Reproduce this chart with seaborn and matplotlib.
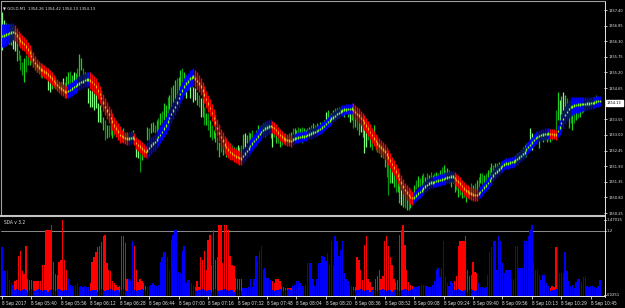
import numpy as np
import matplotlib
matplotlib.use("Agg")
import matplotlib.pyplot as plt
from matplotlib.lines import Line2D
import matplotlib.transforms as mtransforms
from matplotlib.font_manager import FontProperties, findfont
from matplotlib.textpath import TextPath
import seaborn as sns

sns.set_theme(style="dark", rc={"axes.facecolor": "black", "figure.facecolor": "black",
                                "patch.force_edgecolor": False, "patch.edgecolor": "none"})


def _font_ok(fam, **kw):
    try:
        return findfont(FontProperties(family=fam, **kw), fallback_to_default=False)
    except Exception:
        return None


FONT = "Liberation Sans"
STRETCH = "normal"
if _font_ok("Liberation Sans Narrow"):
    FONT = "Liberation Sans Narrow"
else:
    p = _font_ok("DejaVu Sans", stretch="condensed")
    if p and "Condensed" in p:
        FONT, STRETCH = "DejaVu Sans", "condensed"
plt.rcParams['font.family'] = [FONT, 'DejaVu Sans']
plt.rcParams['font.stretch'] = STRETCH

# ---------------- data ----------------
time_labels = ["8 Sep 2017", "8 Sep 05:40", "8 Sep 05:56", "8 Sep 06:12", "8 Sep 06:28",
               "8 Sep 06:44", "8 Sep 07:00", "8 Sep 07:16", "8 Sep 07:32", "8 Sep 07:48",
               "8 Sep 08:04", "8 Sep 08:20", "8 Sep 08:36", "8 Sep 08:52", "8 Sep 09:08",
               "8 Sep 09:24", "8 Sep 09:40", "8 Sep 09:56", "8 Sep 10:13", "8 Sep 10:29",
               "8 Sep 10:45"]
price_ticks = [1357.40, 1356.85, 1356.30, 1355.75, 1355.20, 1354.65, 1354.13,
               1353.55, 1353.00, 1352.45, 1351.90, 1351.35, 1350.80, 1350.25]
last_price = 1354.13
header = "GOLD,M1  1354.26 1354.42 1354.13 1354.13"
sub_title = "SDA v 3.2"
sub_max, sub_level, sub_min = 1.47015, 1.2, 0.0251

# smoothed line (band centre), one value per minute
mid = [
 1356.49, 1356.51, 1356.53, 1356.56, 1356.59, 1356.61, 1356.63, 1356.59, 1356.50, 1356.41,
 1356.33, 1356.26, 1356.20, 1356.12, 1356.01, 1355.90, 1355.78, 1355.66, 1355.53, 1355.45,
 1355.37, 1355.31, 1355.28, 1355.24, 1355.19, 1355.12, 1355.06, 1354.98, 1354.90, 1354.83,
 1354.76, 1354.69, 1354.63, 1354.58, 1354.53, 1354.51, 1354.54, 1354.58, 1354.63, 1354.69,
 1354.73, 1354.78, 1354.82, 1354.86, 1354.89, 1354.93, 1354.95, 1354.96, 1354.92, 1354.86,
 1354.79, 1354.70, 1354.57, 1354.44, 1354.30, 1354.14, 1353.99, 1353.86, 1353.73, 1353.60,
 1353.47, 1353.34, 1353.23, 1353.12, 1353.00, 1352.96, 1352.92, 1352.89, 1352.87, 1352.88,
 1352.89, 1352.90, 1352.85, 1352.72, 1352.65, 1352.59, 1352.52, 1352.46, 1352.40, 1352.45,
 1352.54, 1352.63, 1352.69, 1352.75, 1352.83, 1352.92, 1353.00, 1353.11, 1353.23, 1353.34,
 1353.47, 1353.60, 1353.73, 1353.86, 1353.99, 1354.14, 1354.30, 1354.44, 1354.57, 1354.70,
 1354.81, 1354.89, 1354.98, 1355.02, 1355.05, 1354.98, 1354.90, 1354.81, 1354.70, 1354.56,
 1354.42, 1354.26, 1354.11, 1353.95, 1353.78, 1353.60, 1353.43, 1353.25, 1353.07, 1352.92,
 1352.80, 1352.67, 1352.58, 1352.49, 1352.40, 1352.35, 1352.29, 1352.25, 1352.22, 1352.19,
 1352.17, 1352.26, 1352.34, 1352.43, 1352.52, 1352.61, 1352.69, 1352.78, 1352.86, 1352.95,
 1353.04, 1353.11, 1353.17, 1353.23, 1353.26, 1353.29, 1353.32, 1353.28, 1353.24, 1353.17,
 1353.09, 1353.00, 1352.94, 1352.88, 1352.84, 1352.82, 1352.81, 1352.79, 1352.84, 1352.87,
 1352.89, 1352.91, 1352.92, 1352.94, 1352.95, 1352.97, 1352.99, 1353.02, 1353.05, 1353.08,
 1353.11, 1353.14, 1353.17, 1353.21, 1353.26, 1353.32, 1353.38, 1353.45, 1353.51, 1353.57,
 1353.62, 1353.67, 1353.73, 1353.78, 1353.83, 1353.86, 1353.89, 1353.90, 1353.91, 1353.92,
 1353.93, 1353.88, 1353.81, 1353.74, 1353.68, 1353.60, 1353.52, 1353.43, 1353.33, 1353.22,
 1353.11, 1352.99, 1352.88, 1352.78, 1352.70, 1352.62, 1352.55, 1352.49, 1352.42, 1352.32,
 1352.21, 1352.10, 1351.97, 1351.85, 1351.72, 1351.58, 1351.45, 1351.32, 1351.19, 1351.06,
 1350.98, 1350.89, 1350.82, 1350.78, 1350.80, 1350.86, 1350.93, 1350.99, 1351.05, 1351.12,
 1351.19, 1351.24, 1351.29, 1351.32, 1351.33, 1351.35, 1351.37, 1351.39, 1351.41, 1351.43,
 1351.45, 1351.48, 1351.50, 1351.52, 1351.53, 1351.54, 1351.49, 1351.42, 1351.36, 1351.29,
 1351.20, 1351.12, 1351.04, 1351.00, 1350.96, 1350.94, 1350.91, 1350.89, 1350.88, 1350.93,
 1350.99, 1351.06, 1351.14, 1351.22, 1351.31, 1351.39, 1351.48, 1351.57, 1351.66, 1351.72,
 1351.79, 1351.85, 1351.91, 1351.96, 1351.99, 1352.00, 1352.02, 1352.04, 1352.07, 1352.10,
 1352.15, 1352.20, 1352.26, 1352.33, 1352.39, 1352.48, 1352.57, 1352.65, 1352.74, 1352.82,
 1352.89, 1352.93, 1352.97, 1353.00, 1353.01, 1353.03, 1353.04, 1353.05, 1353.04, 1353.03,
 1353.02, 1353.01, 1353.14, 1353.27, 1353.42, 1353.56, 1353.70, 1353.81, 1353.91, 1353.99,
 1354.01, 1354.04, 1354.06, 1354.07, 1354.08, 1354.09, 1354.09, 1354.09, 1354.10, 1354.11,
 1354.12, 1354.13, 1354.15, 1354.17, 1354.19, 1354.20]

# half thickness of the coloured band around the line
band_half = [
 0.40, 0.40, 0.38, 0.36, 0.34, 0.32, 0.30, 0.28, 0.26, 0.26,
 0.26, 0.26, 0.26, 0.26, 0.26, 0.26, 0.26, 0.26, 0.26, 0.22,
 0.22, 0.22, 0.22, 0.22, 0.22, 0.22, 0.22, 0.22, 0.22, 0.22,
 0.22, 0.22, 0.22, 0.22, 0.22, 0.22, 0.25, 0.25, 0.25, 0.25,
 0.25, 0.25, 0.25, 0.25, 0.25, 0.25, 0.25, 0.25, 0.30, 0.30,
 0.30, 0.30, 0.30, 0.30, 0.30, 0.30, 0.30, 0.30, 0.30, 0.30,
 0.30, 0.30, 0.30, 0.30, 0.30, 0.22, 0.22, 0.22, 0.22, 0.22,
 0.22, 0.22, 0.22, 0.22, 0.22, 0.22, 0.22, 0.22, 0.22, 0.30,
 0.30, 0.30, 0.30, 0.30, 0.30, 0.30, 0.30, 0.30, 0.30, 0.30,
 0.30, 0.30, 0.30, 0.30, 0.30, 0.30, 0.30, 0.30, 0.30, 0.30,
 0.30, 0.30, 0.30, 0.30, 0.30, 0.30, 0.30, 0.30, 0.30, 0.30,
 0.30, 0.30, 0.30, 0.30, 0.30, 0.30, 0.30, 0.30, 0.30, 0.30,
 0.30, 0.30, 0.30, 0.30, 0.30, 0.24, 0.24, 0.24, 0.24, 0.24,
 0.24, 0.25, 0.25, 0.25, 0.25, 0.25, 0.25, 0.25, 0.25, 0.25,
 0.25, 0.25, 0.25, 0.25, 0.25, 0.25, 0.25, 0.20, 0.20, 0.20,
 0.20, 0.20, 0.20, 0.20, 0.20, 0.20, 0.20, 0.20, 0.18, 0.18,
 0.18, 0.18, 0.18, 0.18, 0.18, 0.18, 0.18, 0.18, 0.18, 0.18,
 0.18, 0.18, 0.18, 0.18, 0.18, 0.18, 0.18, 0.18, 0.18, 0.18,
 0.18, 0.18, 0.18, 0.18, 0.18, 0.18, 0.18, 0.18, 0.18, 0.18,
 0.18, 0.26, 0.26, 0.26, 0.26, 0.26, 0.26, 0.26, 0.26, 0.26,
 0.26, 0.26, 0.26, 0.26, 0.26, 0.26, 0.26, 0.26, 0.26, 0.26,
 0.26, 0.26, 0.26, 0.26, 0.26, 0.26, 0.26, 0.26, 0.26, 0.26,
 0.26, 0.26, 0.26, 0.26, 0.20, 0.20, 0.20, 0.20, 0.20, 0.20,
 0.20, 0.20, 0.20, 0.20, 0.20, 0.20, 0.20, 0.20, 0.20, 0.20,
 0.20, 0.20, 0.20, 0.20, 0.20, 0.20, 0.22, 0.22, 0.22, 0.22,
 0.22, 0.22, 0.22, 0.22, 0.22, 0.22, 0.22, 0.22, 0.22, 0.20,
 0.20, 0.20, 0.20, 0.20, 0.20, 0.20, 0.20, 0.20, 0.20, 0.20,
 0.20, 0.20, 0.20, 0.20, 0.20, 0.20, 0.20, 0.20, 0.20, 0.20,
 0.20, 0.20, 0.20, 0.20, 0.20, 0.20, 0.20, 0.20, 0.20, 0.20,
 0.20, 0.20, 0.20, 0.20, 0.20, 0.20, 0.20, 0.20, 0.18, 0.18,
 0.18, 0.18, 0.22, 0.26, 0.30, 0.32, 0.33, 0.33, 0.33, 0.32,
 0.31, 0.30, 0.29, 0.28, 0.27, 0.26, 0.25, 0.24, 0.23, 0.22,
 0.21, 0.20, 0.20, 0.19, 0.19, 0.18]

# price bar high / low, relative to the line
hi_off = [
 0.85, 0.55, 0.40, 0.35, 0.30, 0.30, 0.20, 0.15, -0.26, -0.42,
 -0.51, -0.69, -0.49, -0.32, -0.10, -0.09, 0.14, -0.07, 0.16, 0.07,
 0.13, 0.21, 0.19, 0.12, 0.10, -0.06, -0.19, -0.04, 0.10, 0.10,
 0.18, 0.18, 0.23, 0.42, 0.33, 0.58, 0.67, 0.67, 0.47, 0.53,
 0.44, 0.58, 1.02, 0.84, 0.46, 0.28, 0.23, -0.30, -0.34, -0.28,
 -0.32, -0.19, -0.46, -0.39, -0.42, -0.51, -0.47, -0.51, -0.39, -0.18,
 -0.12, -0.11, 0.18, 0.28, 0.26, 0.21, 0.32, 0.18, 0.23, 0.13,
 0.21, 0.26, 0.14, -0.02, -0.07, -0.22, -0.05, 0.07, 0.16, 0.83,
 0.71, 0.79, 0.77, 0.60, 0.70, 0.68, 0.77, 0.75, 0.89, 0.70,
 0.86, 0.81, 0.95, 0.89, 0.93, 0.86, 0.74, 0.84, 0.79, 0.51,
 0.30, 0.14, 0.05, -0.02, -0.36, -0.34, -0.39, -0.40, -0.40, -0.16,
 -0.44, -0.49, -0.33, -0.42, -0.42, -0.44, -0.33, -0.33, -0.33, -0.21,
 -0.14, -0.09, 0.08, 0.11, 0.32, 0.30, 0.28, 0.33, 0.43, 0.39,
 0.47, 0.77, 0.74, 0.57, 0.58, 0.46, 0.47, 0.21, 0.32, 0.40,
 0.21, 0.25, 0.25, 0.22, 0.15, 0.16, 0.04, -0.11, 0.04, -0.11,
 -0.09, -0.07, -0.05, 0.12, 0.22, 0.11, 0.26, 0.31, 0.40, 0.37,
 0.28, 0.37, 0.33, 0.34, 0.29, 0.20, 0.25, 0.26, 0.30, 0.34,
 0.24, 0.28, 0.18, 0.25, 0.19, 0.20, 0.43, 0.43, 0.19, 0.21,
 0.26, 0.28, 0.23, 0.20, 0.16, 0.12, 0.06, 0.08, -0.04, -0.12,
 -0.05, -0.18, -0.18, -0.11, -0.22, -0.18, -0.05, -0.25, -0.05, 0.01,
 -0.05, 0.00, 0.47, 0.10, 0.05, 0.09, 0.09, 0.05, -0.19, -0.19,
 -0.09, -0.08, -0.09, -0.07, -0.12, -0.06, -0.14, -0.08, -0.20, -0.11,
 -0.16, -0.18, 0.13, 0.21, 0.44, 0.57, 0.61, 0.49, 0.53, 0.54,
 0.33, 0.42, 0.30, 0.37, 0.25, 0.31, 0.33, 0.27, 0.35, 0.43,
 0.48, 0.28, 0.33, 0.25, 0.13, 0.12, 0.04, 0.00, 0.00, -0.05,
 -0.04, 0.05, 0.02, 0.13, 0.21, 0.37, 0.33, 0.42, 0.54, 0.60,
 0.68, 0.61, 0.46, 0.44, 0.46, 0.47, 0.53, 0.37, 0.35, 0.29,
 0.26, 0.18, 0.16, 0.17, 0.20, 0.11, 0.17, 0.19, 0.16, 0.19,
 0.21, 0.19, 0.21, 0.25, 0.25, 0.23, 0.18, 0.60, 0.33, 0.18,
 0.21, 0.17, 0.09, 0.10, 0.05, 0.07, -0.04, 0.02, 0.06, 0.04,
 0.15, 0.86, 1.37, 0.96, 0.95, 0.95, 0.70, 0.48, 0.23, 0.23,
 0.10, 0.19, 0.17, 0.09, 0.08, 0.04, 0.07, 0.07, 0.13, 0.12,
 0.18, 0.16, 0.18, 0.23, 0.15, 0.10]

lo_off = [
 -0.50, -0.30, -0.30, -0.35, -0.40, -0.45, -0.60, -0.65, -0.89, -0.77,
 -1.04, -1.14, -1.33, -0.91, -0.56, -0.44, -0.21, -0.28, -0.26, -0.25,
 -0.19, -0.28, -0.27, -0.13, -0.18, -0.52, -0.54, -0.35, -0.21, -0.18,
 -0.18, -0.10, -0.05, -0.10, -0.02, -0.12, 0.10, 0.10, 0.19, -0.18,
 0.12, 0.23, 0.04, 0.42, 0.10, 0.00, -0.19, -0.82, -0.94, -0.88,
 -0.91, -0.75, -1.12, -0.98, -0.88, -0.96, -1.17, -0.96, -0.81, -0.60,
 -0.58, -0.35, -0.14, -0.04, -0.09, -0.04, -0.10, -0.14, -0.05, -0.11,
 -0.04, -0.09, -0.07, -0.51, -0.46, -0.89, -0.40, -0.25, -0.19, 0.38,
 0.18, 0.44, 0.42, 0.32, 0.28, 0.26, 0.35, 0.30, 0.29, 0.28,
 0.30, 0.28, 0.25, 0.26, 0.23, 0.26, 0.21, 0.21, 0.30, 0.16,
 -0.51, -0.32, -0.68, -0.33, -0.89, -0.76, -0.85, -0.82, -1.07, -0.93,
 -1.07, -0.91, -0.93, -1.02, -0.95, -0.72, -0.68, -0.78, -0.85, -0.53,
 -0.49, -0.30, -0.34, -0.28, -0.04, -0.12, -0.07, 0.05, 0.01, 0.04,
 0.19, 0.25, 0.25, 0.29, 0.19, 0.11, 0.05, -0.04, 0.04, -0.02,
 -0.04, -0.04, -0.07, -0.30, -0.10, -0.12, -0.42, -0.70, -0.32, -0.46,
 -0.37, -0.42, -0.29, -0.16, -0.09, -0.11, -0.16, -0.05, -0.02, 0.02,
 0.00, 0.02, 0.01, -0.22, 0.05, -0.15, 0.00, -0.02, 0.02, -0.01,
 -0.04, -0.04, -0.11, -0.10, -0.09, -0.08, -0.03, -0.02, -0.16, -0.11,
 -0.09, -0.04, -0.12, -0.08, -0.05, -0.09, -0.26, -0.13, -0.29, -0.47,
 -0.40, -0.63, -0.53, -0.57, -0.68, -0.49, -0.58, -1.05, -0.75, -0.41,
 -0.54, -0.53, -0.16, -0.32, -0.31, -0.26, -0.33, -0.30, -0.54, -0.79,
 -1.31, -0.78, -0.65, -0.67, -0.72, -0.58, -0.84, -0.78, -0.73, -0.63,
 -0.61, -0.53, -0.39, -0.18, -0.02, 0.22, 0.23, 0.18, 0.11, 0.19,
 0.05, 0.11, 0.02, 0.16, -0.10, 0.06, -0.06, 0.02, 0.07, -0.02,
 0.06, -0.14, -0.02, -0.21, -0.36, -0.23, -0.49, -0.35, -0.53, -0.40,
 -0.42, -0.30, -0.40, -0.19, -0.07, 0.02, -0.02, 0.11, 0.19, 0.25,
 0.33, 0.19, 0.04, 0.09, 0.11, 0.02, 0.04, 0.02, 0.00, -0.02,
 -0.02, -0.07, -0.05, -0.08, -0.05, -0.13, -0.08, -0.02, -0.12, -0.05,
 -0.11, -0.09, -0.07, -0.11, -0.18, -0.26, -0.11, -0.18, -0.26, -0.11,
 -0.18, -0.11, -0.44, -0.11, -0.26, -0.21, -0.29, -0.23, -0.29, -0.21,
 -0.13, 0.16, 0.39, 0.16, 0.14, 0.11, 0.18, -0.19, -0.68, -0.58,
 -0.85, -0.62, -0.53, -0.47, -0.44, -0.31, -0.28, -0.21, -0.15, -0.12,
 -0.14, -0.08, -0.03, 0.00, -0.06, -0.04]

# shade of each price bar: L = pale, G = green, D = dark green
bar_shade = ("LLGDGGLLGD" "DDGDDGDGDG" "DGDGDLLGDG" "GDGLDGGDGL" "GDGGDGDLLL"
             "LLLLDGDGDD" "GDGDGDGGDG" "DGDLLDGDGG" "DGGDGDGDGG" "DGDGGDGGDG"
             "LGLDLLGDLG" "DGDGDGGDGD" "GDGDGDGDLG" "DGLGDGDGDG" "GDGDGDGLDG"
             "DGDGDGDGDG" "GDGDGLDGDG" "DGDGDGLGDG" "GDGDGDGDGL" "GDGDGLGLLD"
             "GDGDGDGDGD" "DGLGDGGLGD" "GDGDGDGDGD" "GDGDGDGDGD" "GDGDGDGDGD"
             "GDGDGDGDGD" "GDGDGDGDGD" "GDGDGDGDGD" "GDGDGDGLLD" "GDGDGDGDGD"
             "GDGLGLGDGD" "GDGDGDGDGD" "GDGDGD")

# SDA histogram (main) and its small base histogram
sda = [
 0.90, 0.46, 0.46, 0.47, 0.30, 0.24, 0.21, 0.27, 0.30, 0.73,
 0.83, 0.46, 0.40, 0.92, 0.32, 0.30, 0.29, 0.27, 0.28, 0.28,
 0.28, 0.28, 0.57, 0.57, 1.21, 1.21, 1.21, 1.31, 0.63, 0.40,
 0.39, 0.62, 0.67, 1.40, 0.67, 0.47, 0.32, 0.21, 0.19, 0.18,
 0.21, 0.23, 0.17, 0.18, 0.16, 0.19, 0.17, 0.17, 0.24, 0.63,
 0.72, 0.81, 0.91, 0.92, 0.99, 1.10, 1.13, 0.61, 0.47, 0.46,
 0.27, 0.24, 0.21, 0.16, 0.19, 1.11, 1.11, 0.98, 0.32, 0.32,
 0.27, 1.01, 0.92, 0.47, 0.26, 0.32, 0.27, 0.24, 0.18, 0.17,
 0.19, 0.21, 0.23, 0.21, 0.18, 0.21, 0.62, 0.72, 0.81, 0.81,
 0.72, 0.47, 1.03, 1.12, 1.21, 1.21, 0.44, 0.43, 0.83, 0.92,
 0.24, 0.29, 0.30, 0.24, 0.18, 0.16, 0.27, 0.17, 0.72, 0.67,
 0.83, 0.47, 1.03, 1.12, 0.57, 1.21, 0.67, 0.71, 1.31, 1.31,
 0.61, 1.31, 1.31, 1.22, 0.73, 0.58, 0.55, 0.33, 0.32, 0.32,
 0.32, 0.15, 0.15, 0.15, 0.17, 0.31, 0.16, 0.31, 0.73, 0.64,
 0.83, 0.92, 0.50, 0.52, 0.33, 0.33, 0.30, 0.27, 0.24, 0.31,
 0.31, 0.27, 0.19, 0.17, 0.15, 0.15, 0.15, 0.15, 0.19, 0.21,
 0.27, 0.27, 0.24, 0.19, 0.19, 0.21, 0.61, 0.61, 0.61, 0.31,
 0.19, 0.32, 0.61, 0.61, 0.73, 0.72, 0.64, 0.80, 0.57, 1.02,
 0.57, 1.11, 1.01, 0.73, 0.85, 1.01, 0.43, 0.32, 0.28, 0.21,
 0.19, 0.17, 0.17, 0.72, 0.67, 0.47, 0.29, 0.95, 1.11, 0.32,
 0.26, 0.17, 0.17, 0.32, 0.36, 0.47, 0.32, 0.36, 1.02, 1.11,
 0.92, 0.72, 0.57, 0.32, 0.26, 0.30, 1.12, 1.21, 1.31, 0.95,
 0.47, 0.26, 0.21, 0.18, 0.17, 0.17, 0.18, 0.19, 0.20, 0.20,
 0.20, 0.18, 0.17, 0.17, 0.21, 0.27, 0.47, 0.52, 0.35, 0.52,
 1.01, 0.35, 0.24, 0.19, 0.28, 0.24, 0.28, 0.36, 0.92, 1.01,
 1.01, 1.01, 1.11, 0.47, 0.36, 0.38, 0.62, 0.44, 0.43, 0.24,
 0.16, 0.16, 0.15, 0.16, 0.38, 0.81, 0.90, 1.01, 1.01, 0.47,
 1.11, 1.01, 0.61, 0.43, 0.47, 0.47, 0.47, 0.32, 0.32, 0.92,
 0.92, 0.52, 0.52, 0.52, 1.01, 1.01, 1.11, 1.21, 1.31, 0.62,
 0.47, 0.47, 0.38, 0.29, 0.38, 0.38, 0.23, 0.18, 0.15, 0.19,
 0.16, 0.90, 0.90, 0.43, 0.43, 0.43, 0.81, 0.46, 0.27, 0.18,
 0.21, 0.15, 0.25, 0.31, 0.31, 0.25, 0.35, 0.35, 0.18, 0.17,
 0.19, 0.18, 0.17, 0.15, 0.19, 0.30]

sda_base = [
 0.10, 0.12, 0.10, 0.08, 0.10, 0.09, 0.11, 0.10, 0.12, 0.10,
 0.09, 0.11, 0.12, 0.10, 0.08, 0.10, 0.12, 0.11, 0.09, 0.10,
 0.12, 0.10, 0.09, 0.11, 0.10, 0.08, 0.10, 0.12, 0.11, 0.09,
 0.10, 0.12, 0.10, 0.09, 0.11, 0.10, 0.12, 0.14, 0.12, 0.10,
 0.12, 0.14, 0.10, 0.12, 0.10, 0.11, 0.12, 0.10, 0.09, 0.10,
 0.11, 0.10, 0.08, 0.10, 0.12, 0.10, 0.09, 0.11, 0.10, 0.12,
 0.10, 0.09, 0.11, 0.10, 0.08, 0.10, 0.12, 0.10, 0.09, 0.11,
 0.10, 0.12, 0.10, 0.09, 0.11, 0.10, 0.12, 0.10, 0.11, 0.12,
 0.14, 0.12, 0.10, 0.12, 0.14, 0.12, 0.11, 0.10, 0.12, 0.10,
 0.11, 0.12, 0.10, 0.09, 0.11, 0.10, 0.12, 0.10, 0.09, 0.11,
 0.12, 0.10, 0.12, 0.14, 0.12, 0.10, 0.09, 0.11, 0.10, 0.12,
 0.10, 0.09, 0.11, 0.10, 0.08, 0.10, 0.12, 0.10, 0.09, 0.11,
 0.10, 0.12, 0.10, 0.09, 0.11, 0.10, 0.08, 0.10, 0.12, 0.10,
 0.09, 0.12, 0.14, 0.12, 0.10, 0.12, 0.14, 0.12, 0.10, 0.11,
 0.12, 0.10, 0.11, 0.12, 0.10, 0.12, 0.11, 0.10, 0.09, 0.11,
 0.10, 0.12, 0.10, 0.09, 0.11, 0.10, 0.12, 0.10, 0.12, 0.14,
 0.12, 0.10, 0.12, 0.11, 0.10, 0.12, 0.10, 0.11, 0.12, 0.10,
 0.12, 0.11, 0.10, 0.12, 0.10, 0.11, 0.12, 0.10, 0.09, 0.11,
 0.10, 0.12, 0.10, 0.11, 0.12, 0.10, 0.09, 0.11, 0.12, 0.14,
 0.12, 0.10, 0.09, 0.11, 0.10, 0.12, 0.10, 0.09, 0.11, 0.10,
 0.08, 0.10, 0.12, 0.10, 0.09, 0.11, 0.10, 0.12, 0.10, 0.09,
 0.11, 0.10, 0.08, 0.10, 0.12, 0.10, 0.09, 0.11, 0.10, 0.12,
 0.10, 0.09, 0.11, 0.12, 0.14, 0.12, 0.10, 0.12, 0.14, 0.12,
 0.10, 0.12, 0.11, 0.10, 0.12, 0.10, 0.11, 0.12, 0.10, 0.11,
 0.12, 0.10, 0.11, 0.12, 0.10, 0.09, 0.11, 0.10, 0.12, 0.10,
 0.09, 0.11, 0.10, 0.08, 0.10, 0.12, 0.10, 0.09, 0.11, 0.12,
 0.14, 0.12, 0.10, 0.12, 0.11, 0.10, 0.12, 0.10, 0.11, 0.12,
 0.10, 0.12, 0.11, 0.10, 0.12, 0.10, 0.11, 0.12, 0.10, 0.11,
 0.12, 0.10, 0.11, 0.12, 0.10, 0.12, 0.11, 0.10, 0.12, 0.10,
 0.11, 0.12, 0.10, 0.12, 0.11, 0.10, 0.12, 0.10, 0.09, 0.11,
 0.10, 0.12, 0.14, 0.12, 0.10, 0.12, 0.11, 0.10, 0.12, 0.10,
 0.11, 0.12, 0.10, 0.12, 0.11, 0.10, 0.12, 0.10, 0.11, 0.12,
 0.10, 0.12, 0.11, 0.10, 0.12, 0.10]

# ---------------- derived ----------------
N = len(mid)
idx = np.arange(N)
mid_a = np.array(mid)
half = np.array(band_half)
hi = mid_a + np.array(hi_off)
lo = mid_a + np.array(lo_off)
rising = []
cur = True
for i in range(N):
    if i > 0 and mid_a[i] > mid_a[i - 1]:
        cur = True
    elif i > 0 and mid_a[i] < mid_a[i - 1]:
        cur = False
    rising.append(cur)
rising = np.array(rising)
sda_a = np.array(sda)
base_a = np.array(sda_base)

BLUE, RED = "#0000FF", "#FF0000"
TXT = "#E6E6E6"
shade_col = {"L": "#7CFF7C", "G": "#19D219", "D": "#08960A"}


# font sizes fitted to the widths of the reference texts (pixels at 100 dpi)
def fit(sample, target_px):
    fp = FontProperties(family=[FONT, "DejaVu Sans"], stretch=STRETCH)
    w = TextPath((0, 0), sample, size=10, prop=fp).get_extents().width * 100 / 72
    return 10 * target_px / w


FS_PRICE = min(fit("1357.40", 14.5), 5.0)
FS_TIME = min(fit("8 Sep 05:40", 25.5), 5.0)
FS_HEAD = min(fit(header, 86), 5.0)
FS_SDA = min(fit(sub_title, 21), 5.0)
FS_SUB = min(fit("1.47015", 15), 5.0)

# ---------------- figure ----------------
W, H = 625, 308
fig = plt.figure(figsize=(W / 100, H / 100), dpi=100, facecolor="black")


def rect(x0, y0, x1, y1):
    return [x0 / W, 1 - y1 / H, (x1 - x0) / W, (y1 - y0) / H]


px_per_bar = 1.84
x_lo = -1.0 / px_per_bar
x_hi = (604 - 2) / px_per_bar

ax = fig.add_axes(rect(1, 3, 604, 215))
ax2 = fig.add_axes(rect(1, 216.4, 604, 296))
for a in (ax, ax2):
    a.set_facecolor("black")
    for s in a.spines.values():
        s.set_visible(False)
    a.grid(False)

# price bars
ax.vlines(idx, lo, hi, colors=[shade_col[c] for c in bar_shade], linewidth=0.9, zorder=1)
# coloured band
ax.vlines(idx, mid_a - half, mid_a + half,
          colors=np.where(rising, BLUE, RED), linewidth=1.0, zorder=2)
# centre line
ax.vlines(idx, mid_a - 0.045, mid_a + 0.045,
          colors=np.where(rising, "#7CFC00", "#FFA500"), linewidth=1.0, zorder=3)

ax.set_xlim(x_lo, x_hi)
ax.set_ylim(1350.180, 1357.647)
ax.set_xticks([])
ax.yaxis.tick_right()
ax.set_yticks([t for t in price_ticks if t != last_price])
ax.set_yticklabels([f"{t:.2f}" for t in price_ticks if t != last_price])
ax.tick_params(axis="y", colors=TXT, labelcolor=TXT, length=2.0, width=0.6,
               pad=1.0, labelsize=FS_PRICE, right=True, left=False)

ax.annotate(f"{last_price:.2f}", xy=(1.0, last_price),
            xycoords=mtransforms.blended_transform_factory(ax.transAxes, ax.transData),
            xytext=(2.2, 0), textcoords="offset points", ha="left", va="center",
            fontsize=FS_PRICE, color="black",
            bbox=dict(boxstyle="square,pad=0.3", facecolor="white", edgecolor="white"))

ax.text(0.004, 0.985, "\u25BC " + header, transform=ax.transAxes, ha="left", va="top",
        fontsize=FS_HEAD, color=TXT)

# lower pane: SDA histogram, blue where the line rises, red where it falls
bar_kw = dict(native_scale=True, width=0.72, saturation=1, errorbar=None,
              linewidth=0, edgecolor="none", ax=ax2)
sns.barplot(x=idx[rising], y=sda_a[rising], color=BLUE, **bar_kw)
sns.barplot(x=idx[~rising], y=sda_a[~rising], color=RED, **bar_kw)
sns.barplot(x=idx, y=base_a, color=BLUE, **bar_kw)
ax2.axhline(sub_level, color="#8C8C8C", linewidth=0.7, zorder=0.5)
ax2.set_xlim(x_lo, x_hi)
ax2.set_ylim(-0.0025, sub_max)
ax2.set_ylabel("")
ax2.set_xlabel("")
ax2.set_yticks([])
tick_pos = [16 * k for k in range(len(time_labels))]
ax2.set_xticks(tick_pos)
ax2.set_xticklabels(time_labels, ha="left")
ax2.tick_params(axis="x", colors=TXT, labelcolor=TXT, length=2.5, width=0.6,
                pad=1.2, labelsize=FS_TIME, bottom=True)
ax2.grid(False)
ax2.text(0.005, 0.95, sub_title, transform=ax2.transAxes, ha="left", va="top",
         fontsize=FS_SDA, color=TXT)

bt = mtransforms.blended_transform_factory(ax2.transAxes, ax2.transData)
off = mtransforms.ScaledTranslation(3.0 / 100, 0, fig.dpi_scale_trans)
for v, s in ((sub_max - 0.07, f"{sub_max}"), (sub_level, f"{sub_level}"),
             (sub_min, f"{sub_min}")):
    ax2.text(1.0, v, s, transform=bt + off, ha="left", va="center",
             fontsize=FS_SUB, color=TXT)
    ax2.plot([1.0, 1.0035], [v, v], transform=bt, color=TXT, lw=0.6, clip_on=False)


# frame lines (pixel coordinates)
def fline(x0, y0, x1, y1, color, lw):
    fig.add_artist(Line2D([x0 / W, x1 / W], [1 - y0 / H, 1 - y1 / H], color=color,
                          linewidth=lw, transform=fig.transFigure))


fline(1.2, 1, 1.2, 215, "#A0A0A0", 0.8)      # left border
fline(1, 1.2, 604, 1.2, "#A0A0A0", 0.8)      # top border
fline(0, 215.8, 605, 215.8, "#C4C4C4", 1.5)  # pane separator
fline(604.5, 1, 604.5, 297, "#E6E6E6", 0.7)  # price scale line
fline(0, 296.3, 605, 296.3, "#E6E6E6", 0.7)  # time scale line

fig.savefig("out.png", dpi=100, facecolor="black")
